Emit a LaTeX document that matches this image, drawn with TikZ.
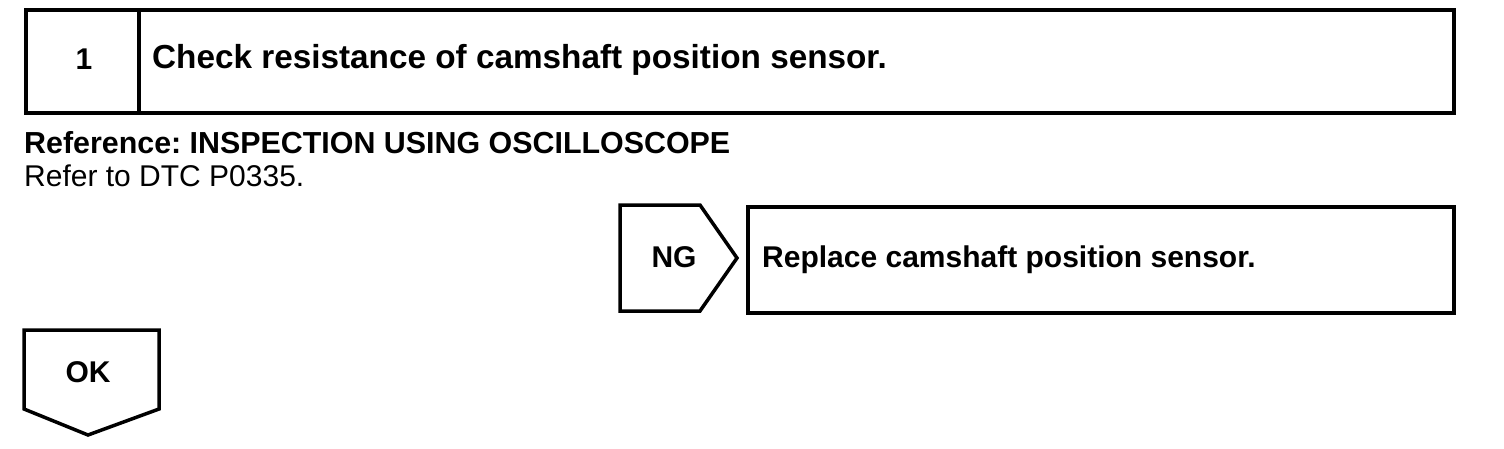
\documentclass[tikz,border=0pt]{standalone}
\usepackage{fontspec}
\setmainfont{Liberation Sans}
\usetikzlibrary{positioning}
\frenchspacing

\begin{document}
\begin{tikzpicture}[
    x=1pt, y=-1pt,
    frame/.style = {draw, line width=3.5pt, inner sep=0pt, anchor=north west},
    edge/.style  = {draw, line width=3.5pt, line join=miter},
    title/.style = {font=\fontsize{33.3}{37}\selectfont\bfseries, inner sep=0pt, anchor=base west},
    head/.style  = {font=\fontsize{30}{34}\selectfont\bfseries, inner sep=0pt, anchor=base},
    note/.style  = {font=\fontsize{30.4}{34}\selectfont\bfseries, inner sep=0pt, anchor=base west},
    body/.style  = {font=\fontsize{30}{34}\selectfont, inner sep=0pt, anchor=base west},
  ]
    \useasboundingbox (0,0) rectangle (1504,448);

    % step header
    \node[frame, minimum width=113pt, minimum height=103pt]  (num)   at (24,8)  {};
    \node[frame, minimum width=1315pt, minimum height=103pt] (check) at (137,8) {};
    \node[head] (numtxt) at (84,69) {1};
    \node[title] (checktxt) at (152,68) {Check resistance of camshaft position sensor.};

    % reference note
    \node[note] (ref)   at (24,153) {Reference: INSPECTION USING OSCILLOSCOPE};
    \node[body] (refer) at (24,186) {Refer to DTC P0335.};

    % NG branch
    \coordinate (ng1) at (620,205);
    \coordinate (ng2) at (700,205);
    \coordinate (ng3) at (737,258);
    \coordinate (ng4) at (700,311);
    \coordinate (ng5) at (620,311);
    \path[edge] (ng1) -- (ng2) -- (ng3) -- (ng4) -- (ng5) -- cycle;
    \node[head] (ng) at (674,267) {NG};

    \node[frame, minimum width=706pt, minimum height=106pt] (repl) at (746,205) {};
    \node[head, anchor=base west] (repltxt) at (762,267) {Replace camshaft position sensor.};

    % OK branch
    \coordinate (ok1) at (24,330);
    \coordinate (ok2) at (159,330);
    \coordinate (ok3) at (159,409);
    \coordinate (ok4) at (88,435);
    \coordinate (ok5) at (24,409);
    \path[edge] (ok1) -- (ok2) -- (ok3) -- (ok4) -- (ok5) -- cycle;
    \node[head] (ok) at (88,382) {OK};
  \end{tikzpicture}
\end{document}
